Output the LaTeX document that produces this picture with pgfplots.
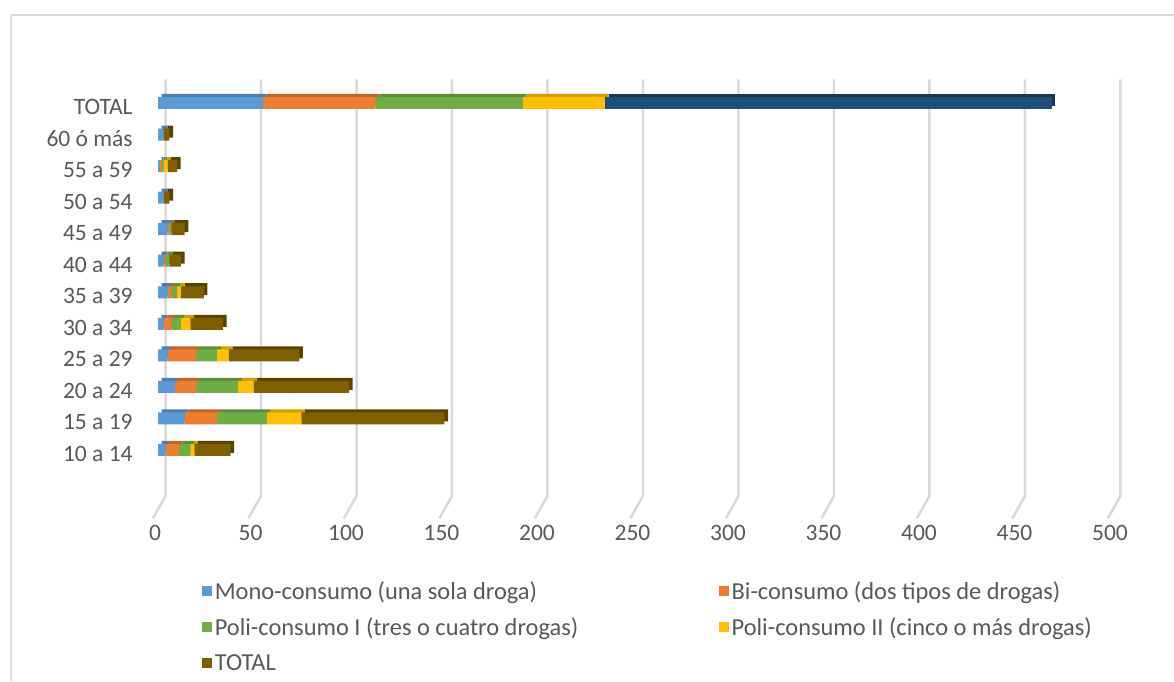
\documentclass[border=0pt]{standalone}
\usepackage{pgfplots}
\pgfplotsset{compat=1.18}
\usepackage{pgfplotstable}
\usepackage{fontspec}
\setmainfont{Carlito}

\definecolor{mono}{HTML}{5B9BD5}
\definecolor{bi}{HTML}{ED7D31}
\definecolor{polia}{HTML}{70AD47}
\definecolor{polib}{HTML}{FFC000}
\definecolor{tot}{HTML}{7F6000}
\definecolor{totrow}{HTML}{1F4E79}
\definecolor{txt}{HTML}{595959}
\definecolor{gridc}{HTML}{D9D9D9}

% Consumo por grupo de edad (0 = 10 a 14 ... 10 = 60 o mas, 11 = TOTAL)
\pgfplotstableread{
y  mono bi polia polib tot totrow
0  4    7  6     2     19  0
1  14   17 26    18    75  0
2  9    11 22    8     50  0
3  5    15 11    6     37  0
4  3    4  5     5     17  0
5  5    2  3     2     12  0
6  3    1  2     0     6   0
7  5    1  1     0     7   0
8  3    0  0     0     3   0
9  1    1  1     2     5   0
10 3    0  0     0     3   0
11 55   59 77    43    0   234
}\datos

\pgfplotsset{
  base/.style={
    scale only axis, width=477.5pt, height=220.05pt,
    xmin=0, xmax=500, ymin=-2.2, ymax=11.75,
    anchor=south west, clip=false,
  },
  bars/.style={base, hide axis, xbar stacked, bar width=6pt},
}

\begin{document}
\begin{tikzpicture}
\useasboundingbox (0,0) rectangle (587pt,340.5pt);
\draw[gridc, line width=1pt] (5.5pt,0) -- (5.5pt,333pt) -- (587pt,333pt);

% axis labels and back-wall grid
\begin{axis}[base, at={(79pt,80.8pt)},
  axis line style={draw=none}, tick style={draw=none},
  xtick={0,50,...,500}, ytick={0,...,11},
  yticklabels={10 a 14, 15 a 19, 20 a 24, 25 a 29, 30 a 34\ , 35 a 39\ , 40 a 44, 45 a 49, 50 a 54, 55 a 59, 60 ó más, TOTAL},
  ticklabel style={font=\fontsize{11.75}{14}\selectfont, text=txt},
  xticklabel style={anchor=center, yshift=-6.8pt, xshift=-1.5pt},
  yticklabel style={anchor=east, inner sep=0pt, xshift=-12.5pt, yshift=-2pt},
  /pgf/number format/assume math mode=true]
\pgfplotsinvokeforeach{0,50,...,500}{
  \draw[gridc, line width=1.25pt]
    ([xshift=3.75pt]axis cs:#1,11.75) -- ([xshift=3.75pt]axis cs:#1,-1.458)
    -- ([xshift=-2.6pt]axis cs:#1,-2.17);
}
\end{axis}

% depth faces of the bars
\begin{axis}[bars, at={(80.8pt,82.3pt)}]
\addplot[fill=mono!82!black, draw=none] table[x=mono, y=y]{\datos};
\addplot[fill=bi!82!black, draw=none] table[x=bi, y=y]{\datos};
\addplot[fill=polia!82!black, draw=none] table[x=polia, y=y]{\datos};
\addplot[fill=polib!82!black, draw=none] table[x=polib, y=y]{\datos};
\addplot[fill=tot!70!black, draw=none] table[x=tot, y=y]{\datos};
\addplot[fill=totrow!70!black, draw=none] table[x=totrow, y=y]{\datos};
\end{axis}

% front faces of the bars
\begin{axis}[bars, at={(79pt,80.8pt)},
  legend columns=2,
  legend image code/.code={\fill[#1] (0pt,-1.9pt) rectangle (5pt,3.1pt);},
  legend style={draw=none, fill=none, inner sep=0pt,
    at={(0.0461,-0.1408)}, anchor=north west,
    font=\fontsize{12.2}{14.5}\selectfont, text=txt,
    cells={anchor=west}, nodes={inner sep=0pt}, row sep=7.75pt,
    /tikz/every odd column/.append style={column sep=1.2pt},
    /tikz/every even column/.append style={column sep=70.5pt}}]
\addplot[fill=mono, draw=none] table[x=mono, y=y]{\datos};
\addplot[fill=bi, draw=none] table[x=bi, y=y]{\datos};
\addplot[fill=polia, draw=none] table[x=polia, y=y]{\datos};
\addplot[fill=polib, draw=none] table[x=polib, y=y]{\datos};
\addplot[fill=tot, draw=none] table[x=tot, y=y]{\datos};
\addplot[fill=totrow, draw=none, forget plot] table[x=totrow, y=y]{\datos};
\legend{Mono-consumo (una sola droga), Bi-consumo (dos tipos de drogas),
  Poli-consumo I (tres o cuatro drogas), Poli-consumo II (cinco o más drogas), TOTAL}
\end{axis}
\end{tikzpicture}
\end{document}
